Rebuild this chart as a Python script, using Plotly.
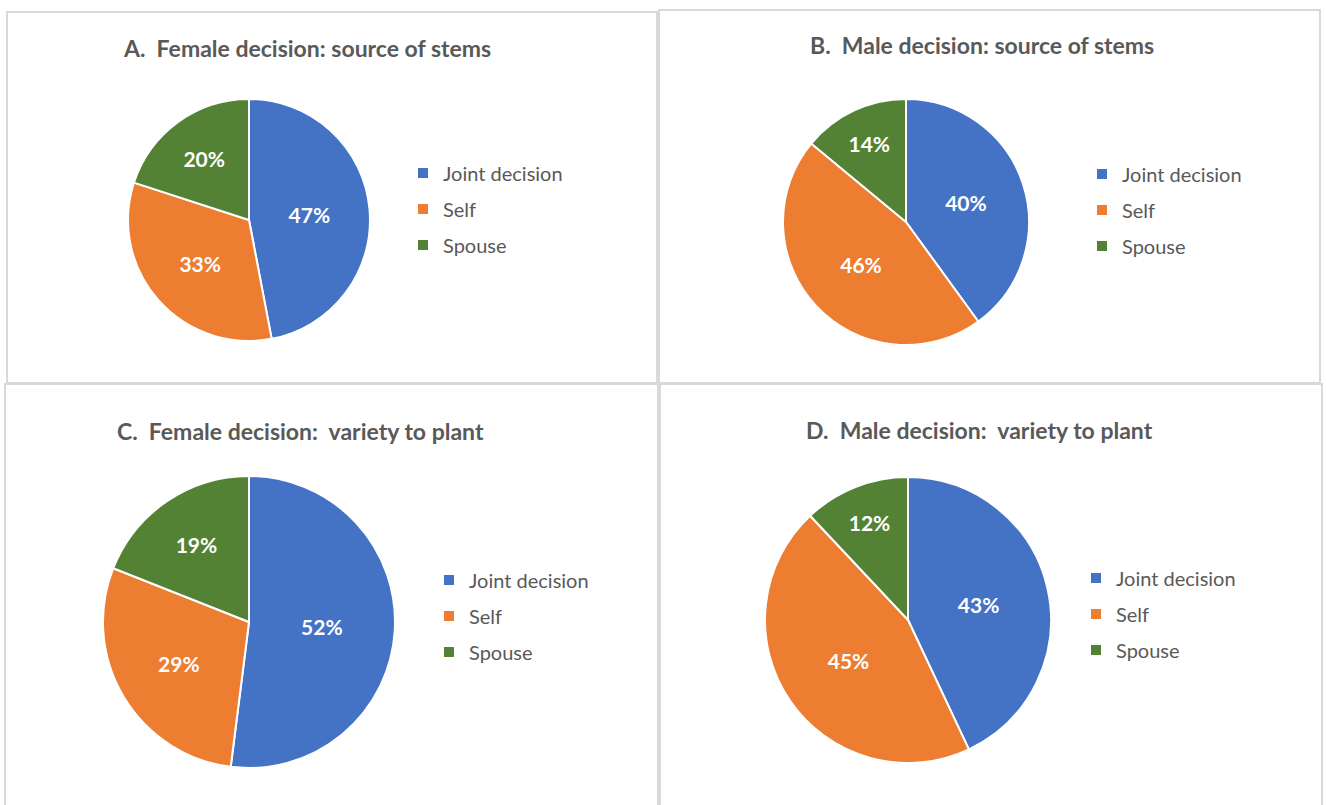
import plotly.graph_objects as go

# Shares of respondents (%) by who makes the decision
categories = ["Joint decision", "Self", "Spouse"]
female_source_of_stems = [47, 33, 20]
male_source_of_stems = [40, 46, 14]
female_variety_to_plant = [52, 29, 19]
male_variety_to_plant = [43, 45, 12]

panel_titles = [
    "A.\u00a0 Female decision: source of stems",
    "B.\u00a0 Male decision: source of stems",
    "C.\u00a0 Female decision:\u00a0 variety to plant",
    "D.\u00a0 Male decision:\u00a0 variety to plant",
]

W, H = 1326, 805
COLORS = ["#4472C4", "#ED7D31", "#548235"]
FONT = "Lato, 'Open Sans', sans-serif"
GREY = "#595959"


def px_x(v):
    return v / W


def px_y(v):
    return 1 - v / H


# Layout of each panel (pixels): pie centre/radius, title centre, legend anchor, frame
panels = [
    dict(values=female_source_of_stems, cx=249, cy=220, r=121,
         tx=307, ty=48, lx=443, ly=209, frame=(7, 12, 657, 383)),
    dict(values=male_source_of_stems, cx=906, cy=222, r=123,
         tx=982, ty=45, lx=1122, ly=210, frame=(659, 10, 1320, 383)),
    dict(values=female_variety_to_plant, cx=249, cy=622, r=146,
         tx=300, ty=431, lx=469, ly=616, frame=(5, 384, 658, 820)),
    dict(values=male_variety_to_plant, cx=908, cy=620, r=143,
         tx=979, ty=430, lx=1116, ly=614, frame=(660, 384, 1322, 820)),
]

fig = go.Figure()
shapes, annotations = [], []
legend_layouts = {}

for i, p in enumerate(panels):
    legend_name = "legend" if i == 0 else f"legend{i + 1}"
    fig.add_trace(go.Pie(
        labels=categories,
        values=p["values"],
        sort=False,
        direction="clockwise",
        rotation=0,
        marker=dict(colors=COLORS, line=dict(color="white", width=2)),
        textinfo="percent",
        texttemplate="%{value}%",
        textposition="inside",
        insidetextorientation="horizontal",
        textfont=dict(family=FONT, size=21, color="white", weight="bold"),
        domain=dict(x=[px_x(p["cx"] - p["r"]), px_x(p["cx"] + p["r"])],
                    y=[px_y(p["cy"] + p["r"]), px_y(p["cy"] - p["r"])]),
        showlegend=False,
        hoverinfo="label+percent",
    ))
    # legend entries (square swatches), one group per category for row spacing
    for cat, col in zip(categories, COLORS):
        fig.add_trace(go.Scatter(
            x=[None], y=[None], mode="markers", name=cat,
            marker=dict(symbol="square", size=10, color=col),
            legend=legend_name, legendgroup=f"{i}-{cat}", showlegend=True,
        ))
    legend_layouts[legend_name] = dict(
        x=px_x(p["lx"] - 40), y=px_y(p["ly"]),
        xanchor="left", yanchor="middle",
        font=dict(family=FONT, size=20, color=GREY),
        bgcolor="rgba(0,0,0,0)", traceorder="grouped",
        tracegroupgap=7, itemwidth=30,
    )
    annotations.append(dict(
        text=f"<b>{panel_titles[i]}</b>", x=px_x(p["tx"]), y=px_y(p["ty"]),
        xref="paper", yref="paper", xanchor="center", yanchor="middle",
        showarrow=False, font=dict(family=FONT, size=23, color=GREY),
    ))
    x0, y0, x1, y1 = p["frame"]
    shapes.append(dict(
        type="rect", xref="paper", yref="paper",
        x0=px_x(x0), x1=px_x(x1), y0=px_y(y1), y1=px_y(y0),
        line=dict(color="#D9D9D9", width=2), fillcolor="rgba(0,0,0,0)",
    ))

fig.update_layout(
    width=W, height=H,
    margin=dict(l=0, r=0, t=0, b=0),
    paper_bgcolor="white", plot_bgcolor="white",
    xaxis=dict(visible=False), yaxis=dict(visible=False),
    shapes=shapes, annotations=annotations,
    **legend_layouts,
)

fig.write_html("out.html")
